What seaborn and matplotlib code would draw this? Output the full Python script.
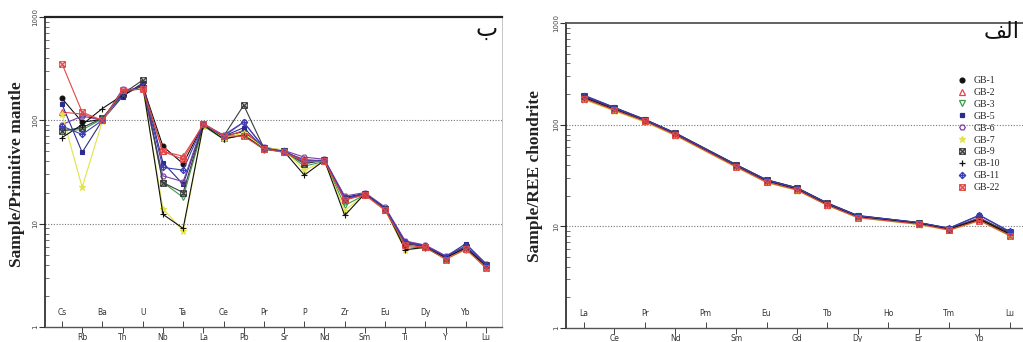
import numpy as np
import pandas as pd
import matplotlib
matplotlib.use("Agg")
import matplotlib.pyplot as plt
import seaborn as sns
from matplotlib.lines import Line2D
from matplotlib.path import Path
from matplotlib.ticker import FixedLocator, LogLocator, NullFormatter, FixedFormatter

sns.set_theme(style="ticks")
plt.rcParams["font.family"] = ["DejaVu Sans"]

# ---------------- data ----------------
samples = ["GB-1", "GB-2", "GB-3", "GB-5", "GB-6", "GB-7", "GB-9", "GB-10", "GB-11", "GB-22"]

spider_elements = ["Cs", "Rb", "Ba", "Th", "U", "Nb", "Ta", "La", "Ce", "Pb", "Pr",
                   "Sr", "P", "Nd", "Zr", "Sm", "Eu", "Ti", "Dy", "Y", "Yb", "Lu"]

pm_gb1 = [163, 96, 102, 180, 215, 56, 38, 92, 70, 78, 54, 50, 40, 41, 18, 19.5, 14, 6.6, 6.0, 4.7, 5.8, 4.0]
pm_gb2 = [120, 115, 100, 190, 210, 50, 45, 90, 68, 80, 53, 49, 42, 40, 17, 19, 13.5, 6.5, 6.0, 4.6, 5.7, 3.8]
pm_gb3 = [80, 81, 103, 175, 225, 25, 18, 88, 66, 72, 52, 50, 36, 40, 15, 19, 13.8, 6.0, 5.8, 4.6, 5.6, 3.9]
pm_gb5 = [143, 49, 100, 170, 230, 39, 24, 91, 70, 85, 53, 51, 39, 41, 17.5, 19.5, 14, 6.7, 6.1, 4.8, 6.4, 4.1]
pm_gb6 = [91, 110, 100, 200, 200, 29, 25.5, 93, 72, 96, 55, 51, 44, 42, 18.5, 20, 14.5, 6.8, 6.2, 4.9, 6.0, 4.1]
pm_gb7 = [115, 22.5, 98, 185, 205, 14, 8.5, 89, 68, 75, 54, 52, 33, 40, 13.4, 19, 13.5, 5.5, 5.9, 4.6, 5.6, 3.8]
pm_gb9 = [79, 85, 105, 180, 245, 25, 20, 92, 70, 140, 54, 50, 38, 41, 17, 19.5, 14, 6.4, 6.0, 4.7, 5.9, 4.0]
pm_gb10 = [68, 91, 130, 175, 220, 12.3, 9, 90, 66, 72, 53, 50, 29.5, 41, 12, 19.5, 14, 5.6, 5.9, 4.7, 5.8, 3.9]
pm_gb11 = [88, 73, 100, 185, 215, 35, 33, 92, 70, 96, 54, 50, 41, 41, 17.5, 19.5, 14, 6.6, 6.1, 4.8, 6.1, 4.0]
pm_gb22 = [354, 120, 100, 195, 200, 50, 42, 93, 71, 70, 53, 49, 40, 40, 17, 19, 13.5, 6.2, 5.9, 4.5, 5.7, 3.7]

ree_elements = ["La", "Ce", "Pr", "Nd", "Pm", "Sm", "Eu", "Gd", "Tb", "Dy", "Ho", "Er", "Tm", "Yb", "Lu"]
ree_measured = ["La", "Ce", "Pr", "Nd", "Sm", "Eu", "Gd", "Tb", "Dy", "Er", "Tm", "Yb", "Lu"]

ree_gb1 = [190, 145, 112, 82, 40, 28.5, 23.8, 16.8, 12.6, 10.8, 9.5, 11.8, 8.6]
ree_gb2 = [182, 140, 108, 80, 39, 27.5, 23, 16.3, 12.3, 10.6, 9.3, 11.6, 8.3]
ree_gb3 = [178, 138, 107, 79, 38.5, 27, 22.8, 16.2, 12.2, 10.5, 9.2, 11.5, 8.2]
ree_gb5 = [195, 148, 113, 83, 40.5, 28.8, 24, 17, 12.8, 10.9, 9.6, 12.8, 8.8]
ree_gb6 = [188, 146, 111, 82, 40, 28.3, 23.6, 16.7, 12.6, 10.8, 9.5, 12.2, 8.5]
ree_gb7 = [176, 136, 106, 78, 38, 27, 22.5, 16, 12.1, 10.4, 9.1, 11.3, 8.0]
ree_gb9 = [192, 147, 112, 83, 40.5, 28.6, 23.9, 16.9, 12.7, 10.9, 9.5, 11.9, 8.7]
ree_gb10 = [185, 142, 110, 81, 39.5, 28, 23.3, 16.5, 12.5, 10.7, 9.4, 11.7, 8.4]
ree_gb11 = [193, 146, 112, 82, 40, 28.4, 23.7, 16.8, 12.7, 10.9, 9.6, 12.9, 8.9]
ree_gb22 = [180, 139, 108, 79, 38.5, 27.2, 22.8, 16.1, 12.2, 10.5, 9.2, 11.4, 8.1]

pm_values = [pm_gb1, pm_gb2, pm_gb3, pm_gb5, pm_gb6, pm_gb7, pm_gb9, pm_gb10, pm_gb11, pm_gb22]
ree_values = [ree_gb1, ree_gb2, ree_gb3, ree_gb5, ree_gb6, ree_gb7, ree_gb9, ree_gb10, ree_gb11, ree_gb22]

# ---------------- marker shapes ----------------
M, L, C = Path.MOVETO, Path.LINETO, Path.CLOSEPOLY
box_x = Path([(-1, -1), (1, -1), (1, 1), (-1, 1), (-1, -1),
              (-1, -1), (1, 1), (-1, 1), (1, -1)],
             [M, L, L, L, C, M, L, M, L])
diamond_plus = Path([(0, -1), (1, 0), (0, 1), (-1, 0), (0, -1),
                     (0, -1), (0, 1), (-1, 0), (1, 0)],
                    [M, L, L, L, C, M, L, M, L])

colors = ["#111111", "#e8454a", "#3d9a4c", "#2c2c8c", "#7a3fa6", "#e2e24a",
          "#3c3c3c", "#111111", "#3a3fb5", "#e04848"]
markers = ["o", "^", "v", "s", "H", "*", box_x, "+", diamond_plus, box_x]
filled = [True, False, False, True, False, True, False, True, False, False]
msizes = [3.5, 4, 4, 3.5, 4, 5, 4, 5, 4.5, 4]

rows = []
for s, vals in zip(samples, pm_values):
    for i, (e, v) in enumerate(zip(spider_elements, vals)):
        rows.append({"sample": s, "element": e, "pos": i, "value": v})
df_pm = pd.DataFrame(rows)

rows = []
for s, vals in zip(samples, ree_values):
    for e, v in zip(ree_measured, vals):
        rows.append({"sample": s, "element": e, "pos": ree_elements.index(e), "value": v})
df_ree = pd.DataFrame(rows)

W, H = 1023, 342
fig = plt.figure(figsize=(W / 100, H / 100), dpi=100)
fig.patch.set_facecolor("white")

ax1 = fig.add_axes([45 / W, (H - 327) / H, (502 - 45) / W, (327 - 17) / H])
ax2 = fig.add_axes([566 / W, (H - 328) / H, (1030 - 566) / W, (328 - 23) / H])


def draw(ax, df):
    for s, c, m, f, ms in zip(samples, colors, markers, filled, msizes):
        sub = df[df["sample"] == s]
        sns.lineplot(data=sub, x="pos", y="value", ax=ax, color=c, linewidth=0.8,
                     marker=m, markersize=ms,
                     markerfacecolor=(c if f else "none"), markeredgecolor=c,
                     markeredgewidth=0.8, legend=False, sort=False)


draw(ax1, df_pm)
draw(ax2, df_ree)


def style_axis(ax, elements, xlim, top_lw, top_col):
    ax.set_yscale("log")
    ax.set_ylim(1, 1000)
    ax.set_xlim(*xlim)
    ax.set_xlabel("")
    ax.set_ylabel("")
    for yv in (10, 100):
        ax.axhline(yv, color="#777777", linestyle=(0, (1, 1.5)), linewidth=0.8, zorder=0)
    ax.yaxis.set_major_locator(FixedLocator([1, 10, 100, 1000]))
    ax.yaxis.set_major_formatter(FixedFormatter(["1", "10", "100", "1000"]))
    ax.yaxis.set_minor_locator(LogLocator(base=10, subs=np.arange(2, 10)))
    ax.yaxis.set_minor_formatter(NullFormatter())
    ax.tick_params(axis="y", which="major", direction="out", length=4, width=0.8,
                   labelsize=5, labelcolor="#444444", pad=1, labelrotation=90, color="#333333")
    ax.tick_params(axis="y", which="minor", direction="in", length=3, width=0.6, color="#555555")
    for lab in ax.get_yticklabels():
        lab.set_va("center")
    even = list(range(0, len(elements), 2))
    odd = list(range(1, len(elements), 2))
    ax.set_xticks(even, [elements[i] for i in even])
    ax.set_xticks(odd, [elements[i] for i in odd], minor=True)
    ax.tick_params(axis="x", which="major", direction="in", length=4, width=0.7,
                   pad=-13.5, labelsize=5.5, labelcolor="#333333", color="#444444")
    ax.tick_params(axis="x", which="minor", direction="out", length=4, width=0.7,
                   pad=0.5, labelsize=5.5, labelcolor="#333333", color="#444444")
    ax.spines["top"].set_linewidth(top_lw)
    ax.spines["top"].set_color(top_col)
    ax.spines["left"].set_linewidth(1.2)
    ax.spines["left"].set_color("#222222")
    ax.spines["bottom"].set_linewidth(1.0)
    ax.spines["bottom"].set_color("#555555")
    ax.spines["right"].set_linewidth(0.6)
    ax.spines["right"].set_color("#bbbbbb")
    ax.grid(False)


style_axis(ax1, spider_elements, (-0.84, 21.79), 1.6, "#222222")
style_axis(ax2, ree_elements, (-0.59, 14.66), 1.3, "#555555")

ax1.set_ylabel("Sample/Primitive mantle", fontfamily="Liberation Serif",
               fontweight="bold", fontsize=12.5, color="#222222")
ax1.yaxis.set_label_coords((25 - 45) / (502 - 45), 0.494)
ax2.set_ylabel("Sample/REE chondrite", fontfamily="Liberation Serif",
               fontweight="bold", fontsize=12.5, color="#222222")
ax2.yaxis.set_label_coords((543 - 566) / (1030 - 566), 0.50)

# panel letters (Arabic)
fig.text(487 / W, 1 - 29 / H, "ب", fontsize=17, ha="center", va="center",
         family=["DejaVu Sans"], color="#111111")
fig.text(1020 / W, 1 - 31 / H, "\ufed2\ufedf\u0627", fontsize=16, ha="right", va="center",
         family=["DejaVu Sans"], color="#111111")

# legend
handles = [Line2D([], [], linestyle="none", marker=m, color=c, markersize=ms,
                  markerfacecolor=(c if f else "none"), markeredgecolor=c, markeredgewidth=0.9)
           for c, m, f, ms in zip(colors, markers, filled, msizes)]
ax2.legend(handles, samples, loc="upper left", bbox_to_anchor=(958 / W, 1 - 76 / H),
           bbox_transform=fig.transFigure, frameon=False,
           prop={"family": "Liberation Serif", "size": 7},
           handlelength=0.8, handletextpad=0.8, labelspacing=0.3,
           borderpad=0, borderaxespad=0)

fig.savefig("out.png", dpi=100, facecolor="white")
